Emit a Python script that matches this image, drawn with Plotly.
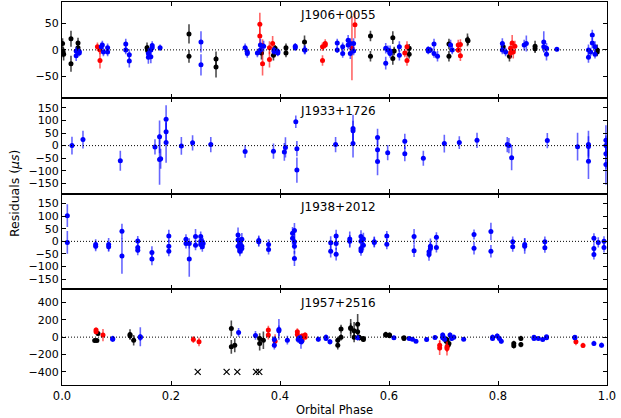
import plotly.graph_objects as go
from plotly.subplots import make_subplots

# ---------------- data: (orbital phase, residual [us], error [us]) ----------------
pulsar_names = ["J1906+0055", "J1933+1726", "J1938+2012", "J1957+2516"]

J1906_black = [(0.001, 12, 10), (0.002, -4, 10), (0.003, -8, 12), (0.0165, 21, 15), (0.0165, -26, 15),
               (0.0294, 13, 10), (0.0294, 4, 10), (0.156, 4, 10), (0.157, -1, 10), (0.233, 30, 18),
               (0.233, -12, 12), (0.2826, -17, 14), (0.2826, -32, 20), (0.366, -6, 12), (0.388, -10, 10),
               (0.391, 3, 6), (0.411, 4, 8), (0.411, -6, 8), (0.445, 15, 12), (0.566, 26, 10),
               (0.566, -12, 10), (0.607, 23, 12), (0.607, -16, 12), (0.6095, -2, 8), (0.637, 3, 8),
               (0.637, -8, 8), (0.710, 11, 10), (0.710, -12, 10), (0.744, 19, 12), (0.745, 17, 8),
               (0.8095, 6, 8), (0.821, -12, 10), (0.868, 7, 10), (0.868, 2, 8), (0.982, 0, 10), (0.982, -4, 8)]
J1906_red = [(0.065, 6, 8), (0.0697, -20, 15), (0.0697, 0, 8), (0.363, 48, 22), (0.363, 26, 18),
             (0.368, -26, 22), (0.368, 8, 12), (0.3807, 4, 12), (0.3807, -18, 15), (0.3865, 12, 14),
             (0.478, 6, 8), (0.478, -20, 10), (0.483, 12, 8), (0.483, 9, 6), (0.532, 3, 60),
             (0.5375, 47, 25), (0.629, -6, 8), (0.633, 6, 10), (0.633, -20, 10), (0.727, 9, 10),
             (0.727, 0, 6), (0.731, 10, 10), (0.731, -11, 10), (0.823, 3, 10), (0.823, -6, 10),
             (0.826, 13, 15), (0.828, -4, 12), (0.831, 7, 10)]
J1906_blue = [(0.026, -2, 8), (0.026, -11, 10), (0.0317, -3, 6), (0.0317, -6, 6), (0.072, 6, 8),
              (0.074, 9, 8), (0.076, -4, 8), (0.0837, 4, 8), (0.0837, -4, 8), (0.117, 11, 10),
              (0.117, 0, 8), (0.1235, -9, 10), (0.1235, -21, 12), (0.1585, -7, 10), (0.1585, -14, 12),
              (0.163, -13, 12), (0.163, 0, 8), (0.1655, 8, 8), (0.1655, 4, 8), (0.180, 4, 6),
              (0.255, 15, 20), (0.255, -28, 20), (0.336, 4, 8), (0.340, -4, 8), (0.340, -7, 8),
              (0.3585, -6, 8), (0.364, 9, 12), (0.364, 0, 8), (0.370, 7, 10), (0.389, 0, 6),
              (0.389, -3, 6), (0.396, -3, 6), (0.396, -6, 6), (0.428, 7, 6), (0.428, 4, 6),
              (0.445, 0, 8), (0.446, 0, 8), (0.505, 13, 8), (0.505, 0, 6), (0.515, 6, 8),
              (0.515, -7, 8), (0.525, 18, 10), (0.525, 9, 8), (0.529, -7, 10), (0.529, 12, 10),
              (0.535, 12, 10), (0.535, -2, 8), (0.594, 3, 10), (0.594, -25, 12), (0.598, 0, 8),
              (0.602, -2, 10), (0.602, -7, 8), (0.619, 6, 10), (0.619, -10, 10), (0.672, 1, 6),
              (0.672, -2, 6), (0.676, 0, 6), (0.6826, 11, 10), (0.6826, -7, 8), (0.689, -12, 10),
              (0.713, 9, 10), (0.716, 0, 8), (0.808, 12, 10), (0.808, 0, 8), (0.814, -4, 8),
              (0.848, 9, 10), (0.852, 12, 15), (0.884, 15, 20), (0.884, 6, 10), (0.889, 3, 10),
              (0.889, -8, 12), (0.908, 1, 4), (0.966, 0, 10), (0.966, -14, 10), (0.970, -4, 8),
              (0.973, 28, 10), (0.973, 13, 10), (0.978, 6, 10), (0.978, -8, 8)]

J1933_blue = [(0.0183, 0, 35), (0.0385, 24, 35), (0.107, -60, 40), (0.1706, -5, 30), (0.179, 35, 65),
              (0.179, -55, 100), (0.181, -52, 40), (0.191, 105, 55), (0.191, 55, 40), (0.191, 12, 80),
              (0.219, -1, 35), (0.2396, 11, 30), (0.273, 4, 30), (0.336, -23, 25), (0.388, -22, 30),
              (0.408, -25, 35), (0.410, -7, 40), (0.429, 95, 25), (0.431, -12, 30), (0.431, -97, 50),
              (0.502, 4, 30), (0.534, 68, 55), (0.534, 59, 40), (0.534, 8, 55), (0.579, 32, 35),
              (0.579, -16, 40), (0.579, -63, 55), (0.5976, -28, 30), (0.629, 17, 30), (0.629, -32, 30),
              (0.663, -50, 30), (0.7015, 8, 35), (0.729, 12, 25), (0.7615, 21, 30), (0.817, 4, 30),
              (0.820, 0, 30), (0.825, -48, 50), (0.8905, 20, 30), (0.946, -4, 55), (0.966, 4, 55),
              (0.966, -3, 40), (0.966, -62, 70), (0.998, 21, 60), (0.998, -32, 60), (0.998, -75, 80),
              (0.998, 0, 40)]

J1938_blue = [(0.0098, 102, 45), (0.0098, -4, 45), (0.0618, -12, 20), (0.0618, -19, 20), (0.0856, -12, 25),
              (0.0856, -21, 20), (0.110, 40, 30), (0.110, -58, 70), (0.139, 1, 20), (0.139, -24, 20),
              (0.139, -35, 20), (0.165, -44, 25), (0.165, -70, 25), (0.196, 21, 25), (0.196, -19, 25),
              (0.196, -39, 20), (0.2275, 8, 20), (0.2275, -8, 20), (0.2335, -8, 20), (0.2335, -70, 70),
              (0.245, 19, 30), (0.245, -15, 20), (0.2545, 19, 20), (0.2545, 0, 20), (0.2545, -12, 20),
              (0.2575, -1, 20), (0.2575, -21, 20), (0.259, -8, 20), (0.323, 25, 30), (0.323, 5, 25),
              (0.323, -19, 25), (0.3265, -8, 25), (0.3265, -32, 20), (0.3265, -39, 20), (0.330, 8, 25),
              (0.330, -19, 25), (0.330, -28, 20), (0.361, 3, 20), (0.361, -1, 20), (0.379, -12, 20),
              (0.379, -32, 20), (0.423, 32, 25), (0.423, 12, 25), (0.4265, 43, 30), (0.4265, -1, 30),
              (0.4265, -19, 30), (0.4265, -68, 30), (0.493, -5, 25), (0.493, -39, 25), (0.503, 21, 25),
              (0.503, -8, 25), (0.503, -51, 25), (0.528, 9, 30), (0.528, 0, 25), (0.5486, 19, 25),
              (0.5486, 0, 20), (0.5486, -28, 20), (0.5486, -37, 20), (0.553, 9, 25), (0.553, -15, 20),
              (0.573, -1, 20), (0.573, -4, 20), (0.596, 21, 20), (0.596, -11, 20), (0.646, 19, 30),
              (0.646, -37, 25), (0.6734, -41, 25), (0.6734, -52, 25), (0.676, -19, 30), (0.676, -28, 25),
              (0.687, 16, 20), (0.687, -24, 20), (0.756, 27, 20), (0.756, -27, 25), (0.787, 39, 35),
              (0.787, -39, 25), (0.827, -1, 20), (0.827, -21, 20), (0.849, -12, 25), (0.849, -19, 30),
              (0.886, -1, 20), (0.886, -25, 20), (0.976, 12, 20), (0.976, -28, 20), (0.976, -52, 20),
              (0.984, -4, 20), (0.9945, 0, 20), (0.9945, -24, 20)]

J1957_black = [(0.060, -39, 20), (0.064, -39, 20), (0.066, 42, 25), (0.1248, 31, 60), (0.1248, 15, 40),
               (0.1315, -35, 60), (0.3107, 100, 90), (0.3107, -112, 80), (0.317, -93, 80), (0.3627, -15, 60),
               (0.3627, -73, 80), (0.3695, -35, 100), (0.506, -93, 50), (0.506, -35, 40), (0.512, 0, 40),
               (0.512, 93, 50), (0.5297, 108, 100), (0.5297, 100, 60), (0.536, 73, 100), (0.536, 0, 60),
               (0.5425, 147, 120), (0.5425, 62, 60), (0.545, 0, 30), (0.546, -8, 30), (0.553, -27, 30),
               (0.553, -15, 20), (0.594, 31, 30), (0.594, 23, 30), (0.601, 23, 30), (0.601, 15, 20),
               (0.6275, -8, 20), (0.6275, -15, 20), (0.705, -46, 40), (0.706, -27, 30), (0.7085, -93, 40),
               (0.710, -73, 40), (0.829, -73, 30), (0.829, -100, 30), (0.842, -15, 30), (0.842, -85, 30)]
J1957_red = [(0.0625, 81, 30), (0.0625, 62, 30), (0.0752, 23, 70), (0.241, -27, 40), (0.2514, -54, 50),
             (0.3786, 81, 50), (0.3786, 23, 50), (0.391, -46, 80), (0.4318, 62, 40), (0.4318, 31, 40),
             (0.4404, 12, 30), (0.4404, -35, 30), (0.446, 23, 30), (0.446, 0, 20), (0.693, -93, 60),
             (0.693, -124, 80), (0.7064, -112, 60), (0.7064, -131, 80), (0.943, -54, 40), (0.956, -96, 30)]
J1957_blue = [(0.093, -15, 30), (0.093, -25, 30), (0.1437, 4, 110), (0.1437, -5, 40), (0.324, 54, 50),
              (0.355, 19, 50), (0.3896, -27, 40), (0.3896, -93, 50), (0.398, 89, 120), (0.398, 73, 60),
              (0.4135, -35, 50), (0.4333, -27, 40), (0.436, -8, 30), (0.4385, -54, 80), (0.44, -46, 40),
              (0.4703, -23, 30), (0.4844, 0, 30), (0.4844, -15, 30), (0.4917, -54, 30), (0.5425, -8, 30),
              (0.609, -8, 20), (0.637, -15, 20), (0.643, -23, 20), (0.6495, -46, 20), (0.669, -27, 25),
              (0.6844, -4, 20), (0.6985, 23, 30), (0.6985, -8, 30), (0.700, 0, 30), (0.702, -23, 30),
              (0.712, 23, 30), (0.715, -15, 30), (0.719, 0, 30), (0.737, -23, 20), (0.790, 0, 30),
              (0.790, -15, 30), (0.7985, 12, 30), (0.8025, -15, 30), (0.806, -46, 30), (0.866, 0, 20),
              (0.866, -15, 20), (0.874, -15, 20), (0.882, -27, 20), (0.889, 4, 20), (0.889, -8, 20),
              (0.941, 0, 20), (0.941, -8, 20), (0.976, -73, 30), (0.990, -93, 30)]
J1957_cross_phase = [0.249, 0.302, 0.3217, 0.356, 0.362]
J1957_cross_res = [-400, -400, -400, -400, -400]

y_ranges = [[-90, 90], [-190, 190], [-190, 190], [-550, 550]]
y_dticks = [50, 50, 50, 200]
x_ticks = [0.0, 0.2, 0.4, 0.6, 0.8, 1.0]

panels = [
    [(J1906_black, "black"), (J1906_red, "red"), (J1906_blue, "blue")],
    [(J1933_blue, "blue")],
    [(J1938_blue, "blue")],
    [(J1957_black, "black"), (J1957_red, "red"), (J1957_blue, "blue")],
]

colors = {"black": ("#000000", "rgba(0,0,0,0.7)"),
          "red": ("#ff0000", "rgba(255,0,0,0.6)"),
          "blue": ("#0000ff", "rgba(0,0,255,0.6)")}

fig = make_subplots(rows=4, cols=1, shared_xaxes=True, vertical_spacing=0)

for i, series_list in enumerate(panels):
    row = i + 1
    for data, cname in series_list:
        mcol, ecol = colors[cname]
        fig.add_trace(go.Scatter(
            x=[d[0] for d in data], y=[d[1] for d in data],
            mode="markers",
            marker=dict(color=mcol, size=5, line=dict(width=0)),
            error_y=dict(type="data", array=[d[2] for d in data], visible=True,
                         color=ecol, thickness=1.6, width=0),
            showlegend=False, hoverinfo="skip"), row=row, col=1)
    fig.add_hline(y=0, line=dict(color="black", width=1, dash="1px,2px"), row=row, col=1)

fig.add_trace(go.Scatter(
    x=J1957_cross_phase, y=J1957_cross_res, mode="markers",
    marker=dict(symbol="x-thin", size=6, line=dict(color="black", width=1.2)),
    showlegend=False, hoverinfo="skip"), row=4, col=1)

font_family = "DejaVu Sans"
for i in range(4):
    row = i + 1
    fig.update_yaxes(range=y_ranges[i], dtick=y_dticks[i], tick0=0, row=row, col=1,
                     ticks="inside", ticklen=4, tickwidth=1, tickcolor="black",
                     showline=True, linecolor="black", linewidth=1.2, mirror="allticks",
                     showgrid=False, zeroline=False,
                     tickfont=dict(family=font_family, size=11, color="black"))
    fig.update_xaxes(range=[0, 1], tickvals=x_ticks, ticktext=["0.0", "0.2", "0.4", "0.6", "0.8", "1.0"],
                     row=row, col=1,
                     ticks="inside", ticklen=4, tickwidth=1, tickcolor="black",
                     showline=True, linecolor="black", linewidth=1.2, mirror="allticks",
                     showgrid=False, zeroline=False,
                     tickfont=dict(family=font_family, size=11.5, color="black"))
    axname = "x" if row == 1 else f"x{row}"
    yname = "y" if row == 1 else f"y{row}"
    fig.add_annotation(text=pulsar_names[i], xref=f"{axname} domain", yref=f"{yname} domain",
                       x=0.4325, y=0.955, xanchor="left", yanchor="top", showarrow=False,
                       font=dict(family=font_family, size=12, color="black"))

fig.update_xaxes(title=dict(text="Orbital Phase", standoff=4,
                            font=dict(family=font_family, size=11.5, color="black")), row=4, col=1)

fig.add_annotation(text="Residuals (<i>μs</i>)", xref="paper", yref="paper",
                   x=-0.087, y=0.5, xanchor="center", yanchor="middle", textangle=-90,
                   showarrow=False, font=dict(family=font_family, size=12.5, color="black"))

fig.update_layout(width=621, height=418,
                  margin=dict(l=62, r=14, t=2, b=33),
                  paper_bgcolor="white", plot_bgcolor="white",
                  font=dict(family=font_family, color="black"))

fig.write_html("out.html", config={"displayModeBar": False},
               post_script="document.body.style.margin='0';document.body.style.padding='0';")
